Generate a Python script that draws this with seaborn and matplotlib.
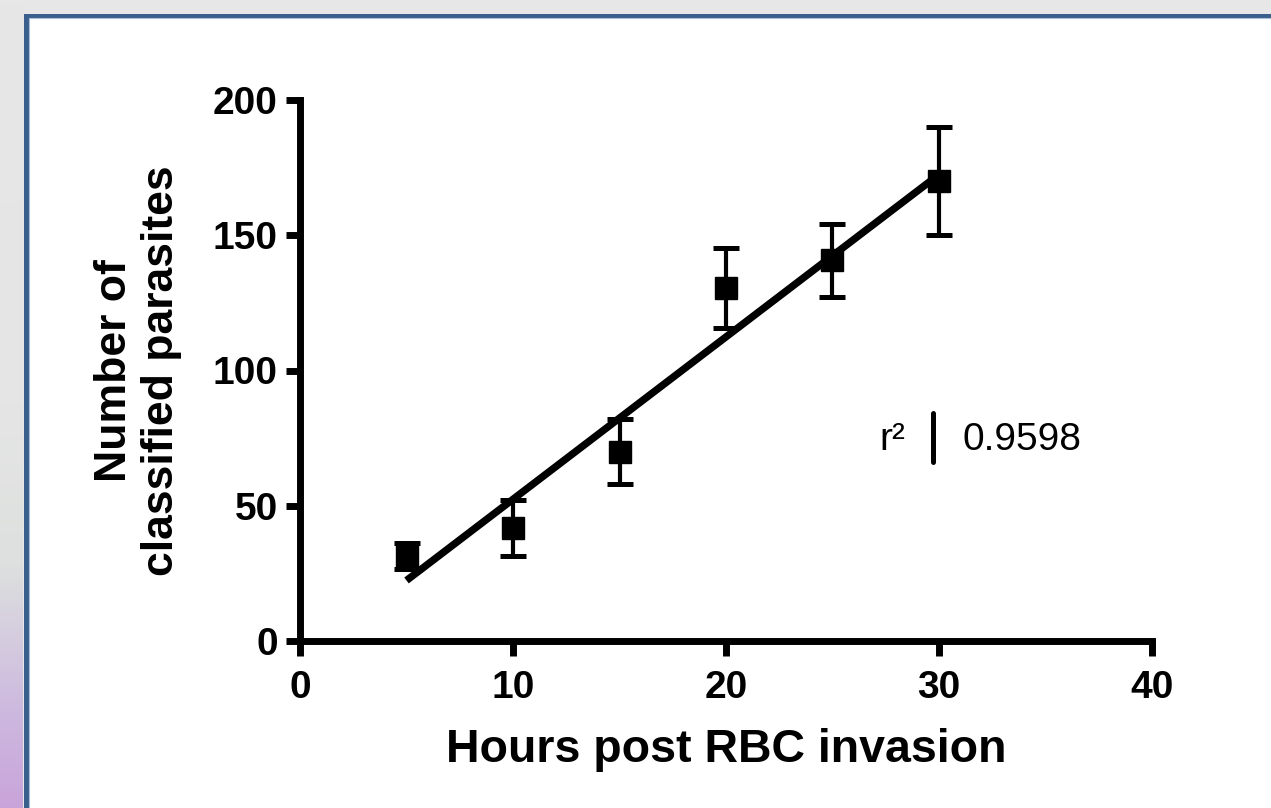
import numpy as np
import matplotlib
matplotlib.use('Agg')
import matplotlib.pyplot as plt
import seaborn as sns
from matplotlib.patches import Rectangle
from matplotlib.lines import Line2D
from matplotlib.colors import LinearSegmentedColormap

# data
hours = [5, 10, 15, 20, 25, 30]
parasites = [31.4, 41.8, 70.0, 130.5, 140.8, 170.0]
sem = [4.8, 10.3, 12.0, 14.8, 13.5, 20.0]
x_ticks = [0, 10, 20, 30, 40]
y_ticks = [0, 50, 100, 150, 200]
r_squared = '0.9598'

sns.set_style('ticks')
plt.rcParams['font.family'] = ['Liberation Sans', 'DejaVu Sans']
plt.rcParams.update({'text.color': 'black', 'axes.labelcolor': 'black',
                     'axes.edgecolor': 'black', 'xtick.color': 'black',
                     'ytick.color': 'black'})

W, H = 1271, 808
fig = plt.figure(figsize=(W / 100, H / 100), dpi=100, facecolor='#e7e7e7')

# slide-like background: gradient strip on the left and a framed white panel
strip = fig.add_axes([0, 0, 23 / W, 1], zorder=-10)
cmap = LinearSegmentedColormap.from_list(
    'strip', [(0, '#c9a4da'), (0.12, '#cdb9df'), (0.3, '#dde0de'), (0.5, '#e5e5e5'), (1, '#e7e7e7')])
strip.imshow(np.linspace(0, 1, 256).reshape(-1, 1), aspect='auto', cmap=cmap,
             origin='lower', extent=[0, 1, 0, 1])
strip.axis('off')

fig.patches.append(Rectangle((25.5 / W, -0.05), 1.2, (H - 15.5) / H + 0.05,
                             transform=fig.transFigure, facecolor='white',
                             edgecolor='#3b5f8d', lw=3.6, zorder=-5))
fig.patches.append(Rectangle((28.5 / W, -0.05), 1.2, (H - 18.5) / H + 0.05,
                             transform=fig.transFigure, facecolor='none',
                             edgecolor='#a9bfd9', lw=0.8, zorder=-4))

ax = fig.add_axes([300 / W, 1 - 641 / H, 852 / W, 541 / H])
ax.set_facecolor('none')

ax.errorbar(hours, parasites, yerr=sem, fmt='s', color='black', ms=15.5,
            elinewidth=3, capsize=9.4, capthick=3.6, zorder=3)
sns.regplot(x=hours, y=parasites, ax=ax, scatter=False, ci=None, color='black',
            line_kws={'lw': 5.3, 'solid_capstyle': 'butt', 'zorder': 4})

ax.set_xlim(0, 40)
ax.set_ylim(0, 200)
ax.set_xticks(x_ticks)
ax.set_yticks(y_ticks)
sns.despine(ax=ax)
for s in ['left', 'bottom']:
    ax.spines[s].set_linewidth(5)
ax.tick_params(width=5, labelsize=28, colors='black')
ax.tick_params(axis='x', length=11, pad=10)
ax.tick_params(axis='y', length=10, pad=6)
for lbl in ax.get_xticklabels() + ax.get_yticklabels():
    lbl.set_fontweight('bold')

ax.set_xlabel('Hours post RBC invasion', fontsize=33.5, fontweight='bold', labelpad=16)
ax.set_ylabel('Number of\nclassified parasites', fontsize=32, fontweight='bold',
              labelpad=22, linespacing=1.2)

fig.text(892 / W, 1 - 440 / H, 'r²', fontsize=28, ha='center', va='center')
fig.add_artist(Line2D([933 / W, 933 / W], [1 - 413 / H, 1 - 462 / H],
                      transform=fig.transFigure, color='black', lw=3.6))
fig.text(962 / W, 1 - 440 / H, r_squared, fontsize=28, ha='left', va='center')

fig.savefig('out.png', dpi=100, facecolor=fig.get_facecolor())
